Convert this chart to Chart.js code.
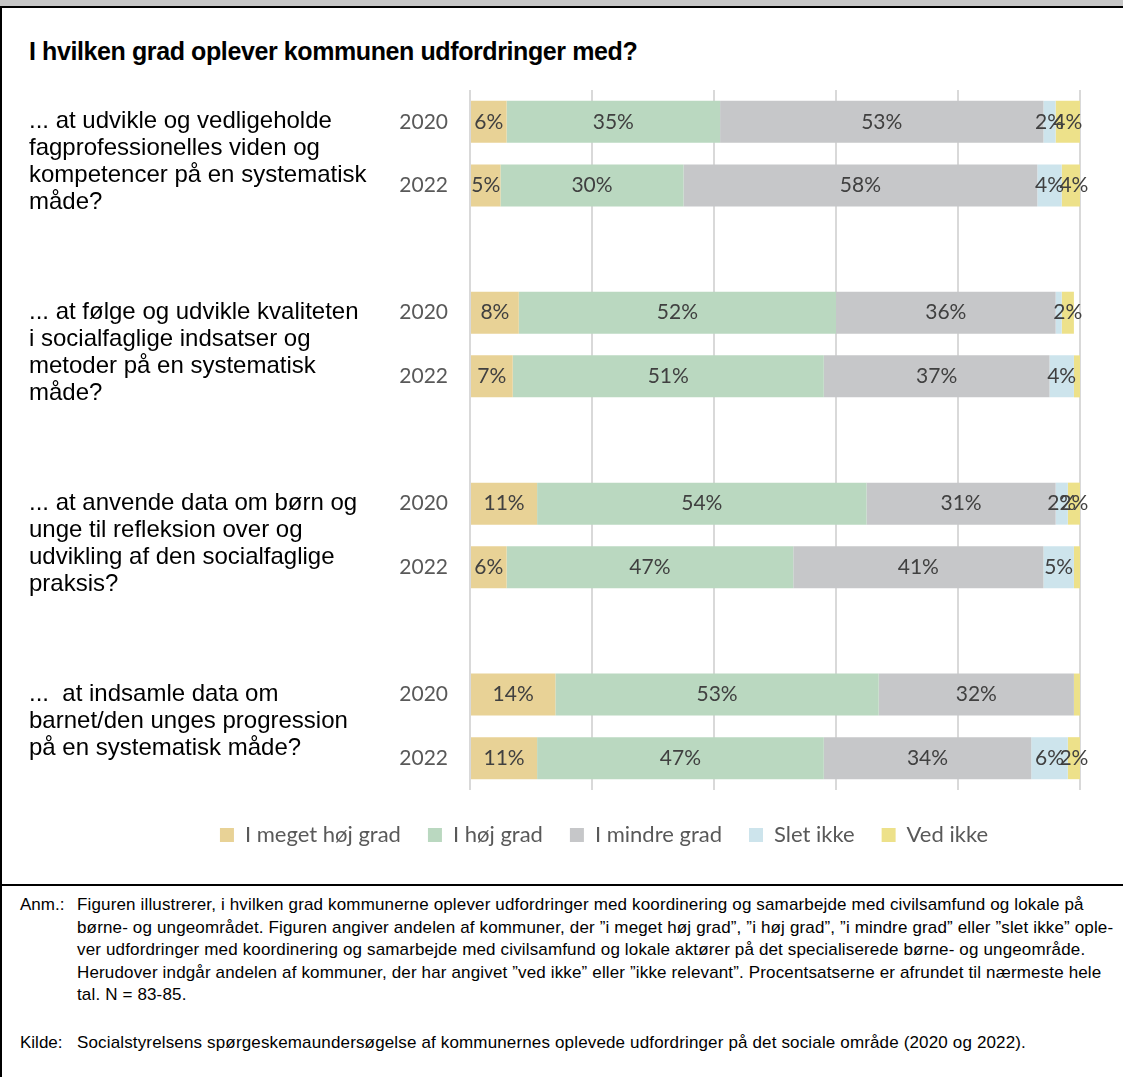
<!DOCTYPE html>
<html>
<head>
<meta charset="utf-8">
<script src="https://cdn.jsdelivr.net/npm/chart.js@4/dist/chart.umd.min.js"></script>
<style>
  body { margin: 0; background: #fff; }
  #page { position: relative; width: 1123px; height: 1077px; overflow: hidden; background: #fff; }
  .band { position: absolute; left: 0; top: 0; width: 1123px; height: 6px; background: #c6c6c6; }
  .topline { position: absolute; left: 0; top: 6px; width: 1123px; height: 2px; background: #000; }
  .leftline { position: absolute; left: 0; top: 6px; width: 2px; height: 1071px; background: #000; }
  .sep { position: absolute; left: 0; top: 884px; width: 1123px; height: 2px; background: #000; }
  .title { position: absolute; left: 29px; top: 37px; font-family: "Liberation Sans Narrow", "Arial Narrow", "Liberation Sans", sans-serif; font-weight: bold; font-size: 25px; letter-spacing: -0.4px; color: #000; white-space: nowrap; }
  .chart-container { position: absolute; left: 2px; top: 70px; width: 1119px; height: 810px; }
  .notes { position: absolute; left: 20px; top: 894px; font-family: "Liberation Sans", Arial, sans-serif; font-size: 17px; letter-spacing: 0.15px; line-height: 22.5px; color: #000; }
  .notes .row { display: flex; }
  .notes .lbl { width: 57px; flex: none; letter-spacing: 0; }
  .notes .txt { white-space: nowrap; }
</style>
</head>
<body>
<div id="page">
  <div class="band"></div>
  <div class="topline"></div>
  <div class="leftline"></div>
  <div class="title">I hvilken grad oplever kommunen udfordringer med?</div>
  <div class="chart-container">
    <canvas id="udfChart"></canvas>
  </div>
  <div class="sep"></div>
  <div class="notes">
    <div class="row"><div class="lbl">Anm.:</div><div class="txt">Figuren illustrerer, i hvilken grad kommunerne oplever udfordringer med koordinering og samarbejde med civilsamfund og lokale på<br>børne- og ungeområdet. Figuren angiver andelen af kommuner, der ”i meget høj grad”, ”i høj grad”, ”i mindre grad” eller ”slet ikke” ople-<br>ver udfordringer med koordinering og samarbejde med civilsamfund og lokale aktører på det specialiserede børne- og ungeområde.<br>Herudover indgår andelen af kommuner, der har angivet ”ved ikke” eller ”ikke relevant”. Procentsatserne er afrundet til nærmeste hele<br>tal. N = 83-85.</div></div>
    <div class="row" style="margin-top: 25px;"><div class="lbl">Kilde:</div><div class="txt">Socialstyrelsens spørgeskemaundersøgelse af kommunernes oplevede udfordringer på det sociale område (2020 og 2022).</div></div>
  </div>
</div>

<script>
// questions (one per pair of bars), each split into its printed lines
const questions = [
  ['... at udvikle og vedligeholde', 'fagprofessionelles viden og', 'kompetencer på en systematisk', 'måde?'],
  ['... at følge og udvikle kvaliteten', 'i socialfaglige indsatser og', 'metoder på en systematisk', 'måde?'],
  ['... at anvende data om børn og', 'unge til refleksion over og', 'udvikling af den socialfaglige', 'praksis?'],
  ['...  at indsamle data om', 'barnet/den unges progression', 'på en systematisk måde?']
];
const years = ['2020', '2022'];

// percentages, order: q1 2020, q1 2022, q2 2020, q2 2022, ...
const megetHoejGrad = [6, 5, 8, 7, 11, 6, 14, 11];
const hoejGrad = [35, 30, 52, 51, 54, 47, 53, 47];
const mindreGrad = [53, 58, 36, 37, 31, 41, 32, 34];
const sletIkke = [2, 4, 1, 4, 2, 5, 0, 6];
const vedIkke = [4, 4, 2, 1, 2, 1, 1, 2];

const seriesNames = ['I meget høj grad', 'I høj grad', 'I mindre grad', 'Slet ikke', 'Ved ikke'];
const seriesColors = ['#e8d296', '#bad8c0', '#c6c7c9', '#cde4ec', '#ede18a'];

// y categories: two years per question, then an empty slot as spacer
const yLabels = [];
questions.forEach((q, i) => {
  yLabels.push(...years);
  if (i < questions.length - 1) yLabels.push('');
});
const spread = (arr) => {
  const out = [];
  questions.forEach((q, i) => {
    out.push(arr[i * 2], arr[i * 2 + 1]);
    if (i < questions.length - 1) out.push(null);
  });
  return out;
};

const valueLabels = {
  id: 'valueLabels',
  afterDatasetsDraw(chart) {
    const ctx = chart.ctx;
    ctx.save();
    ctx.font = '21px Lato, "Open Sans", sans-serif';
    ctx.fillStyle = '#404040';
    ctx.textAlign = 'center';
    ctx.textBaseline = 'middle';
    chart.data.datasets.forEach((ds, di) => {
      chart.getDatasetMeta(di).data.forEach((el, i) => {
        const v = ds.data[i];
        if (v == null || v < 2) return;
        ctx.fillText(v + '%', (el.x + el.base) / 2, el.y);
      });
    });
    ctx.restore();
  }
};

const questionLabels = {
  id: 'questionLabels',
  afterDraw(chart) {
    const ctx = chart.ctx;
    const yScale = chart.scales.y;
    ctx.save();
    ctx.font = '24px "Liberation Sans", Arial, sans-serif';
    ctx.fillStyle = '#000';
    ctx.textAlign = 'left';
    ctx.textBaseline = 'middle';
    questions.forEach((lines, qi) => {
      const y0 = yScale.getPixelForValue(qi * 3);
      lines.forEach((line, li) => {
        ctx.fillText(line, 27, y0 + li * 27);
      });
    });
    ctx.restore();
  }
};

const datasets = [megetHoejGrad, hoejGrad, mindreGrad, sletIkke, vedIkke].map((arr, i) => ({
  label: seriesNames[i],
  data: spread(arr),
  backgroundColor: seriesColors[i],
  borderWidth: 0,
  barPercentage: 0.66,
  categoryPercentage: 1,
  clip: 0
}));

new Chart(document.getElementById('udfChart').getContext('2d'), {
  type: 'bar',
  data: { labels: yLabels, datasets: datasets },
  options: {
    indexAxis: 'y',
    responsive: true,
    maintainAspectRatio: false,
    animation: false,
    layout: { padding: { left: 126, right: 41, top: 20, bottom: 24 } },
    scales: {
      x: {
        stacked: true,
        min: 0,
        max: 100,
        ticks: { display: false, stepSize: 20 },
        grid: { color: '#d9d9d9', lineWidth: 2, drawTicks: false },
        border: { display: false },
        afterFit: (scale) => { scale.height = 7; }
      },
      y: {
        stacked: true,
        grid: { display: false, drawTicks: false },
        border: { display: false },
        ticks: { color: '#595959', font: { family: 'Lato', size: 21 }, padding: 22 },
        afterFit: (scale) => {
          scale.width = 342;
          scale.paddingTop = 0;
          scale.paddingBottom = 0;
        }
      }
    },
    plugins: {
      legend: {
        display: true,
        position: 'bottom',
        labels: {
          boxWidth: 14,
          boxHeight: 14,
          padding: 27,
          color: '#595959',
          font: { family: 'Lato', size: 22 }
        }
      },
      tooltip: { enabled: false }
    }
  },
  plugins: [valueLabels, questionLabels]
});
</script>
</body>
</html>
